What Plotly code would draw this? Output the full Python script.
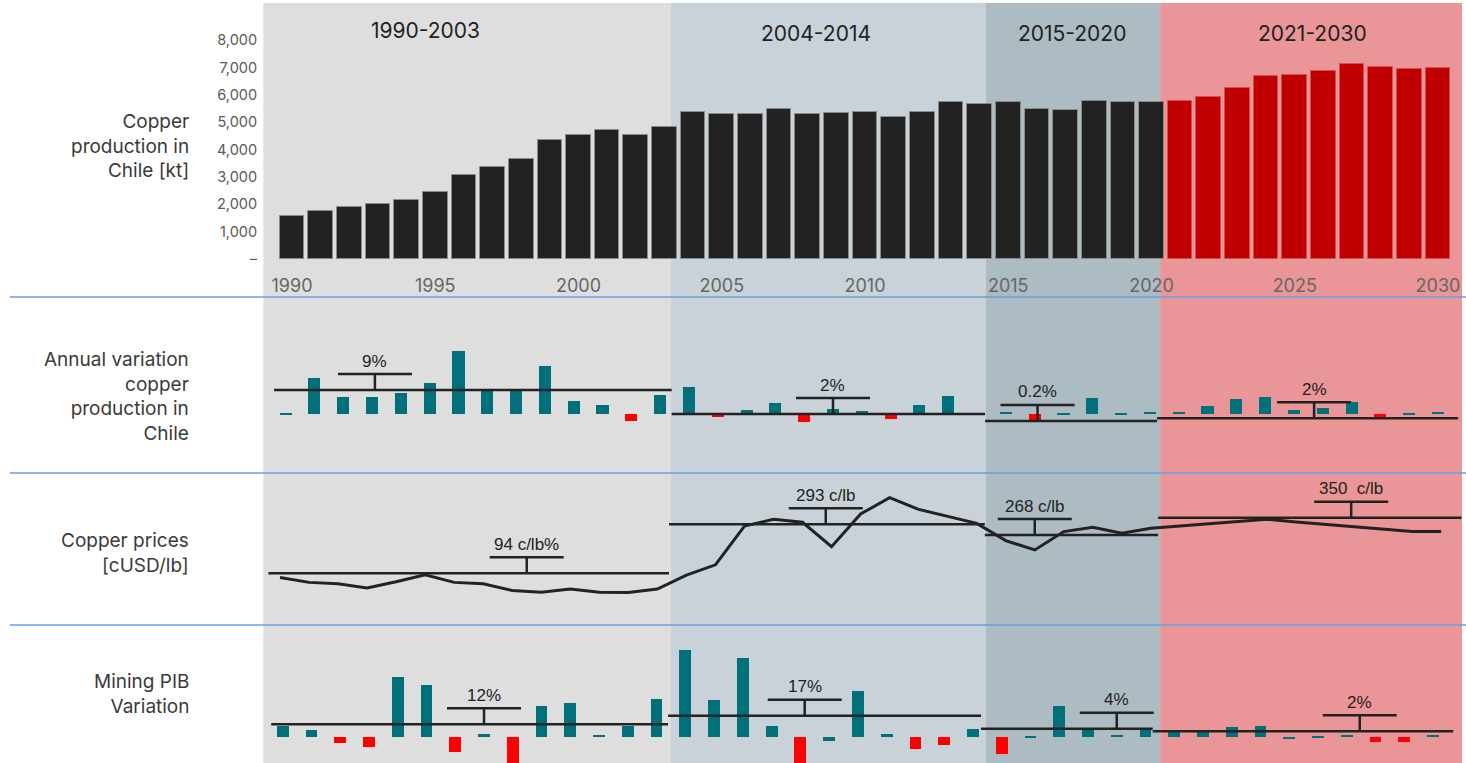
import plotly.graph_objects as go

# ---------------- data ----------------
years = list(range(1990, 2031))
hist_years = list(range(1990, 2021))
proj_years = list(range(2021, 2031))

production_hist = [1590, 1770, 1910, 2020, 2170, 2460, 3060, 3365, 3660, 4360,
                   4550, 4710, 4550, 4840, 5390, 5290, 5290, 5500, 5290, 5340,
                   5390, 5200, 5390, 5740, 5680, 5740, 5500, 5450, 5790, 5740, 5740]
production_proj = [5790, 5940, 6240, 6690, 6740, 6890, 7140, 7030, 6950, 6990]

prod_variation = [-0.7, 14.0, 6.6, 6.6, 8.2, 11.8, 24.6, 8.9, 8.7, 18.8,
                  4.9, 3.3, -3.0, 7.1, 10.5, -1.3, 1.4, 4.2, -3.4, 1.8,
                  0.9, -2.3, 3.5, 6.8, -0.4, 0.7, -2.6, -0.5, 6.1, -0.6,
                  0.7, 0.7, 2.9, 5.5, 6.5, 1.4, 2.3, 4.6, -1.3, -0.5, 0.7]

copper_price = [127, 110, 105, 91, 112, 136, 110, 105, 82, 76,
                87, 76, 75, 87, 135, 170, 303, 326, 316, 232,
                344, 400, 360, 335, 312, 253, 221, 284, 299, 278,
                295, 303, 311, 318, 326, 317, 309, 300, 292, 284, 284]

mining_pib_var = [8.9, 5.3, -5.6, -8.9, 49.4, 42.8, -12.5, 1.9, -23.0, 25.8,
                  28.1, 1.1, 8.9, 31.4, 72.3, 30.3, 65.6, 8.9, -23.0, -3.6,
                  38.1, 1.9, -10.0, -6.7, 6.7, -14.4, -1.1, 25.8, 6.7, 1.1,
                  6.7, 4.7, 4.7, 7.8, 8.9, -2.2, -1.1, 1.1, -4.4, -4.4, 1.1]

era_labels = ["1990-2003", "2004-2014", "2015-2020", "2021-2030"]
era_edges = [1989.0, 2003.23, 2014.22, 2020.3, 2030.84]
avg_edges = [1989.6, 2003.4, 2014.28, 2020.25, 2030.7]

var_avg_levels = [9.2, -0.2, -2.9, -1.9]
var_avg_labels = ["9%", "2%", "0.2%", "2%"]
var_anchor_years = [1993.1, 2009.0, 2016.1, 2025.7]

price_avg_levels = [141, 309, 272, 331.5]
price_avg_labels = ["94 c/lb%", "293 c/lb", "268 c/lb", "350\u00a0 c/lb"]
price_anchor_years = [1998.5, 2008.8, 2016.0, 2026.9]

pib_avg_levels = [10.3, 17.5, 6.7, 4.5]
pib_avg_labels = ["12%", "17%", "4%", "2%"]
pib_anchor_years = [1997.0, 2008.15, 2019.0, 2027.45]

prod_ticks = [0, 1000, 2000, 3000, 4000, 5000, 6000, 7000, 8000]
prod_tick_text = ["–", "1,000", "2,000", "3,000", "4,000", "5,000", "6,000", "7,000", "8,000"]
year_ticks = [1990, 1995, 2000, 2005, 2010, 2015, 2020, 2025, 2030]

row_titles = ["Copper<br>production in<br>Chile [kt]",
              "Annual variation<br>copper<br>production in<br>Chile",
              "Copper prices<br>[cUSD/lb]",
              "Mining PIB<br>Variation"]

# ---------------- styling ----------------
W, H = 1466, 763
def pyf(p):
    return 1 - p / H
def pxf(p):
    return p / W

TEAL = "#00707a"
RED = "#ff0000"
era_colors = ["#dedede", "#c9d2d8", "#adbbc2", "#ea9597"]
FONT = "Inter"
LINE = "#222222"

def bar_colors(vals, thr):
    return [RED if v < thr else TEAL for v in vals]

fig = go.Figure()

# production bars
fig.add_trace(go.Bar(x=hist_years, y=production_hist, width=0.86,
                     marker=dict(color="#222222", line=dict(color="#8a8a8a", width=1)),
                     xaxis="x", yaxis="y", hoverinfo="skip"))
fig.add_trace(go.Bar(x=proj_years, y=production_proj, width=0.86,
                     marker=dict(color="#c00000", line=dict(color="#d65050", width=1)),
                     xaxis="x", yaxis="y", hoverinfo="skip"))

# annual variation
fig.add_trace(go.Bar(x=years, y=prod_variation, width=0.42,
                     marker=dict(color=bar_colors(prod_variation, -1.0), line=dict(width=0)),
                     xaxis="x2", yaxis="y2", hoverinfo="skip"))

# copper prices
fig.add_trace(go.Scatter(x=years, y=copper_price, mode="lines",
                         line=dict(color=LINE, width=3),
                         xaxis="x3", yaxis="y3", hoverinfo="skip"))

# mining PIB variation
fig.add_trace(go.Bar(x=years, y=mining_pib_var, width=0.41,
                     marker=dict(color=bar_colors(mining_pib_var, -4.0), line=dict(width=0)),
                     xaxis="x4", yaxis="y4", hoverinfo="skip"))

# era backgrounds
for i in range(4):
    fig.add_shape(type="rect", xref="x", yref="paper",
                  x0=era_edges[i], x1=era_edges[i + 1], y0=0, y1=pyf(3),
                  fillcolor=era_colors[i], line=dict(width=0), layer="below")

# separators
for p in [297, 473, 625]:
    fig.add_shape(type="line", xref="paper", yref="paper", x0=pxf(10), x1=1,
                  y0=pyf(p), y1=pyf(p), line=dict(color="#6a9ee0", width=1.6))

def add_refs(xref, yref, levels, anchors, labels, label_dy=29):
    for i in range(4):
        fig.add_shape(type="line", xref=xref, yref=yref,
                      x0=avg_edges[i], x1=avg_edges[i + 1], y0=levels[i], y1=levels[i],
                      line=dict(color=LINE, width=2.5))
        fig.add_shape(type="line", xref=xref, yref=yref,
                      xsizemode="pixel", xanchor=anchors[i], x0=-37, x1=37,
                      ysizemode="pixel", yanchor=levels[i], y0=16, y1=16,
                      line=dict(color=LINE, width=2.5))
        fig.add_shape(type="line", xref=xref, yref=yref,
                      xsizemode="pixel", xanchor=anchors[i], x0=0, x1=0,
                      ysizemode="pixel", yanchor=levels[i], y0=0, y1=16,
                      line=dict(color=LINE, width=2.5))
        fig.add_annotation(xref=xref, yref=yref, x=anchors[i], y=levels[i],
                           text=labels[i], showarrow=False, yshift=label_dy,
                           xanchor="center", yanchor="middle",
                           font=dict(family="Liberation Sans", size=17, color="#222"))

add_refs("x2", "y2", var_avg_levels, var_anchor_years, var_avg_labels)
add_refs("x3", "y3", price_avg_levels, price_anchor_years, price_avg_labels)
add_refs("x4", "y4", pib_avg_levels, pib_anchor_years, pib_avg_labels)

# era titles
title_x = [426, 816, 1072, 1312]
title_y = [31, 33, 33, 33]
for t, xx, yy in zip(era_labels, title_x, title_y):
    fig.add_annotation(xref="paper", yref="paper", x=pxf(xx), y=pyf(yy), text=t,
                       showarrow=False, xanchor="center", yanchor="middle",
                       font=dict(family=FONT, size=21, color="#222"))

# row titles
row_y = [145.5, 396, 553, 694]
for t, yy in zip(row_titles, row_y):
    fig.add_annotation(xref="paper", yref="paper", x=pxf(191), y=pyf(yy), text=t,
                       showarrow=False, xanchor="right", yanchor="middle", align="right",
                       font=dict(family=FONT, size=19, color="#3a3a3a"))

hidden = dict(visible=False, showgrid=False, zeroline=False, fixedrange=True, automargin=False)

fig.update_layout(
    template="none",
    width=W, height=H,
    margin=dict(l=0, r=0, t=0, b=0, pad=0, autoexpand=False),
    paper_bgcolor="white", plot_bgcolor="rgba(0,0,0,0)",
    showlegend=False, barmode="overlay", bargap=0,
    xaxis=dict(domain=[0, 1], range=[1979.808, 2030.977], anchor="y", automargin=False,
               tickvals=year_ticks, ticks="outside", ticklen=10, tickcolor="rgba(0,0,0,0)",
               showgrid=False, zeroline=False, showline=False,
               tickfont=dict(family=FONT, size=18, color="#666")),
    yaxis=dict(domain=[pyf(259), pyf(3)], range=[0, 9363.6], anchor="free", position=pxf(263),
               automargin=False, tickvals=prod_ticks, ticktext=prod_tick_text,
               ticks="outside", ticklen=3, tickcolor="rgba(0,0,0,0)",
               showgrid=False, zeroline=False, showline=False,
               tickfont=dict(family=FONT, size=14.5, color="#595959")),
    xaxis2=dict(domain=[0, 1], range=[1980.087, 2030.972], anchor="y2", **hidden),
    yaxis2=dict(domain=[pyf(473), pyf(297)], range=[-23.33, 45.69], anchor="x2", **hidden),
    xaxis3=dict(domain=[0, 1], range=[1980.355, 2030.855], anchor="y3", **hidden),
    yaxis3=dict(domain=[pyf(625), pyf(473)], range=[-35.96, 484.59], anchor="x3", **hidden),
    xaxis4=dict(domain=[0, 1], range=[1980.170, 2031.144], anchor="y4", **hidden),
    yaxis4=dict(domain=[0, pyf(625)], range=[-21.92, 93.08], anchor="x4", **hidden),
)

fig.write_html("out.html", config={"displayModeBar": False},
               post_script="document.body.style.margin='0';document.body.style.overflow='hidden';")
